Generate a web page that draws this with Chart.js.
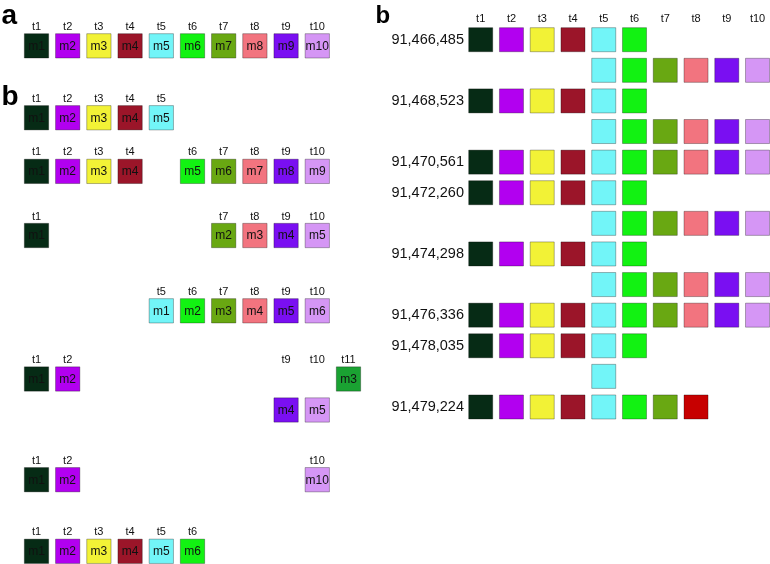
<!DOCTYPE html>
<html>
<head>
<meta charset="utf-8">
<script src="https://cdn.jsdelivr.net/npm/chart.js@4/dist/chart.umd.min.js"></script>
<style>
html, body { margin: 0; padding: 0; background: #fff; overflow: hidden; }
#wrap { position: relative; width: 770px; height: 564px; }
canvas { position: absolute; top: 0; }
.tag { position: absolute; font-family: "Liberation Sans", Arial, sans-serif; font-weight: bold; color: #000; line-height: 1; }
</style>
</head>
<body>
<div id="wrap">
  <canvas id="left" width="375" height="564" style="left:0"></canvas>
  <canvas id="right" width="395" height="564" style="left:375px"></canvas>
  <div class="tag" style="left:1.5px;top:1.3px;font-size:28px">a</div>
  <div class="tag" style="left:1.5px;top:82.3px;font-size:28px">b</div>
  <div class="tag" style="left:375.5px;top:2.7px;font-size:24px">b</div>
</div>
<script>
// colour of each column t1..t11
var tColors = ["#062b15", "#b200f0", "#f2f236", "#9b1529", "#72f5f8", "#12f212",
  "#69a812", "#f2747f", "#7a0ff2", "#d596f5", "#1aa232"];

// panel a / left b: one row per line, columns and module numbers
var leftRowPos = [0, 2.32, 4.05, 6.12, 8.55, 10.75, 14.0, 16.31];
var leftRowCols = [
  [1, 2, 3, 4, 5, 6, 7, 8, 9, 10],
  [1, 2, 3, 4, 5],
  [1, 2, 3, 4, 6, 7, 8, 9, 10],
  [1, 7, 8, 9, 10],
  [5, 6, 7, 8, 9, 10],
  [1, 2, 11, 9, 10],
  [1, 2, 10],
  [1, 2, 3, 4, 5, 6]
];
var leftRowMods = [
  [1, 2, 3, 4, 5, 6, 7, 8, 9, 10],
  [1, 2, 3, 4, 5],
  [1, 2, 3, 4, 5, 6, 7, 8, 9],
  [1, 2, 3, 4, 5],
  [1, 2, 3, 4, 5, 6],
  [1, 2, 3, 4, 5],
  [1, 2, 10],
  [1, 2, 3, 4, 5, 6]
];
// cells pushed one step below their row: [row, column]
var leftDropped = [[5, 9], [5, 10]];

// right b: genomic positions and covered columns per row
var tLabels = ["t1", "t2", "t3", "t4", "t5", "t6", "t7", "t8", "t9", "t10"];
var rightPositions = ["91,466,485", "", "91,468,523", "", "91,470,561", "91,472,260", "",
  "91,474,298", "", "91,476,336", "91,478,035", "", "91,479,224"];
var rightRowStart = [1, 5, 1, 5, 1, 1, 5, 1, 5, 1, 1, 5, 1];
var rightRowEnd = [6, 10, 6, 10, 10, 6, 10, 6, 10, 10, 6, 5, 8];
var rightOddCells = [[12, 8]];
var oddColor = "#c70000";

var FONT = "'Liberation Sans', Arial, sans-serif";
Chart.defaults.font.family = FONT;

function isDropped(r, c) {
  return leftDropped.some(function (d) { return d[0] === r && d[1] === c; });
}

var leftPoints = [];
var leftFill = [];
leftRowCols.forEach(function (cols, r) {
  cols.forEach(function (c, k) {
    leftPoints.push({
      x: c,
      y: leftRowPos[r] + (isDropped(r, c) ? 1 : 0),
      base: leftRowPos[r],
      m: "m" + leftRowMods[r][k],
      t: "t" + c
    });
    leftFill.push(tColors[c - 1]);
  });
});

var cellText = {
  id: "cellText",
  afterDatasetsDraw: function (chart) {
    var ctx = chart.ctx;
    var ys = chart.scales.y;
    ctx.save();
    ctx.textAlign = "center";
    ctx.textBaseline = "middle";
    chart.data.datasets.forEach(function (ds, di) {
      chart.getDatasetMeta(di).data.forEach(function (pt, i) {
        var raw = ds.data[i];
        ctx.fillStyle = "#111";
        ctx.font = "12px " + FONT;
        ctx.fillText(raw.m, pt.x, pt.y + 0.5);
        ctx.font = "11px " + FONT;
        ctx.fillText(raw.t, pt.x, ys.getPixelForValue(raw.base) - 19);
      });
    });
    ctx.restore();
  }
};

new Chart(document.getElementById("left"), {
  type: "scatter",
  data: {
    datasets: [{
      data: leftPoints,
      pointStyle: "rect",
      pointRadius: 17.2,
      pointHoverRadius: 17.2,
      backgroundColor: leftFill,
      borderColor: "rgba(0,0,0,0.3)",
      borderWidth: 1,
      clip: false
    }]
  },
  options: {
    responsive: false,
    animation: false,
    layout: { padding: 0, autoPadding: false },
    plugins: { legend: { display: false }, tooltip: { enabled: false } },
    scales: {
      x: { type: "linear", display: false, min: -0.17, max: 11.85 },
      y: { type: "linear", display: false, reverse: true, min: -1.48, max: 16.72 }
    }
  },
  plugins: [cellText]
});

var rightPoints = [];
var rightFill = [];
rightPositions.forEach(function (p, r) {
  for (var c = rightRowStart[r]; c <= rightRowEnd[r]; c++) {
    var odd = rightOddCells.some(function (o) { return o[0] === r && o[1] === c; });
    rightPoints.push({ x: c, y: r });
    rightFill.push(odd ? oddColor : tColors[c - 1]);
  }
});

new Chart(document.getElementById("right"), {
  type: "scatter",
  data: {
    datasets: [{
      data: rightPoints,
      pointStyle: "rect",
      pointRadius: 17,
      pointHoverRadius: 17,
      backgroundColor: rightFill,
      borderColor: "rgba(0,0,0,0.3)",
      borderWidth: 1,
      clip: false
    }]
  },
  options: {
    responsive: false,
    animation: false,
    layout: { padding: 0, autoPadding: false },
    plugins: { legend: { display: false }, tooltip: { enabled: false } },
    scales: {
      x: {
        type: "linear",
        position: "top",
        min: 0.587,
        max: 10.405,
        grid: { display: false, drawTicks: false, tickLength: 0 },
        border: { display: false },
        afterFit: function (scale) {
          scale.height = 24.4;
          scale.paddingLeft = 0;
          scale.paddingRight = 0;
        },
        afterBuildTicks: function (scale) {
          scale.ticks = tLabels.map(function (_, i) { return { value: i + 1 }; });
        },
        ticks: {
          autoSkip: false,
          maxRotation: 0,
          padding: -1,
          color: "#111",
          font: { size: 11 },
          callback: function (v) { return tLabels[v - 1] || ""; }
        }
      },
      y: {
        type: "linear",
        reverse: true,
        min: -0.5,
        max: 17.13,
        grid: { display: false, drawTicks: false, tickLength: 0 },
        border: { display: false },
        afterFit: function (scale) {
          scale.width = 93;
          scale.paddingTop = 0;
          scale.paddingBottom = 0;
        },
        afterBuildTicks: function (scale) {
          scale.ticks = rightPositions.map(function (_, i) { return { value: i }; });
        },
        ticks: {
          autoSkip: false,
          padding: 4,
          color: "#111",
          font: { size: 14.5 },
          callback: function (v) { return rightPositions[v] || ""; }
        }
      }
    }
  }
});
</script>
</body>
</html>
